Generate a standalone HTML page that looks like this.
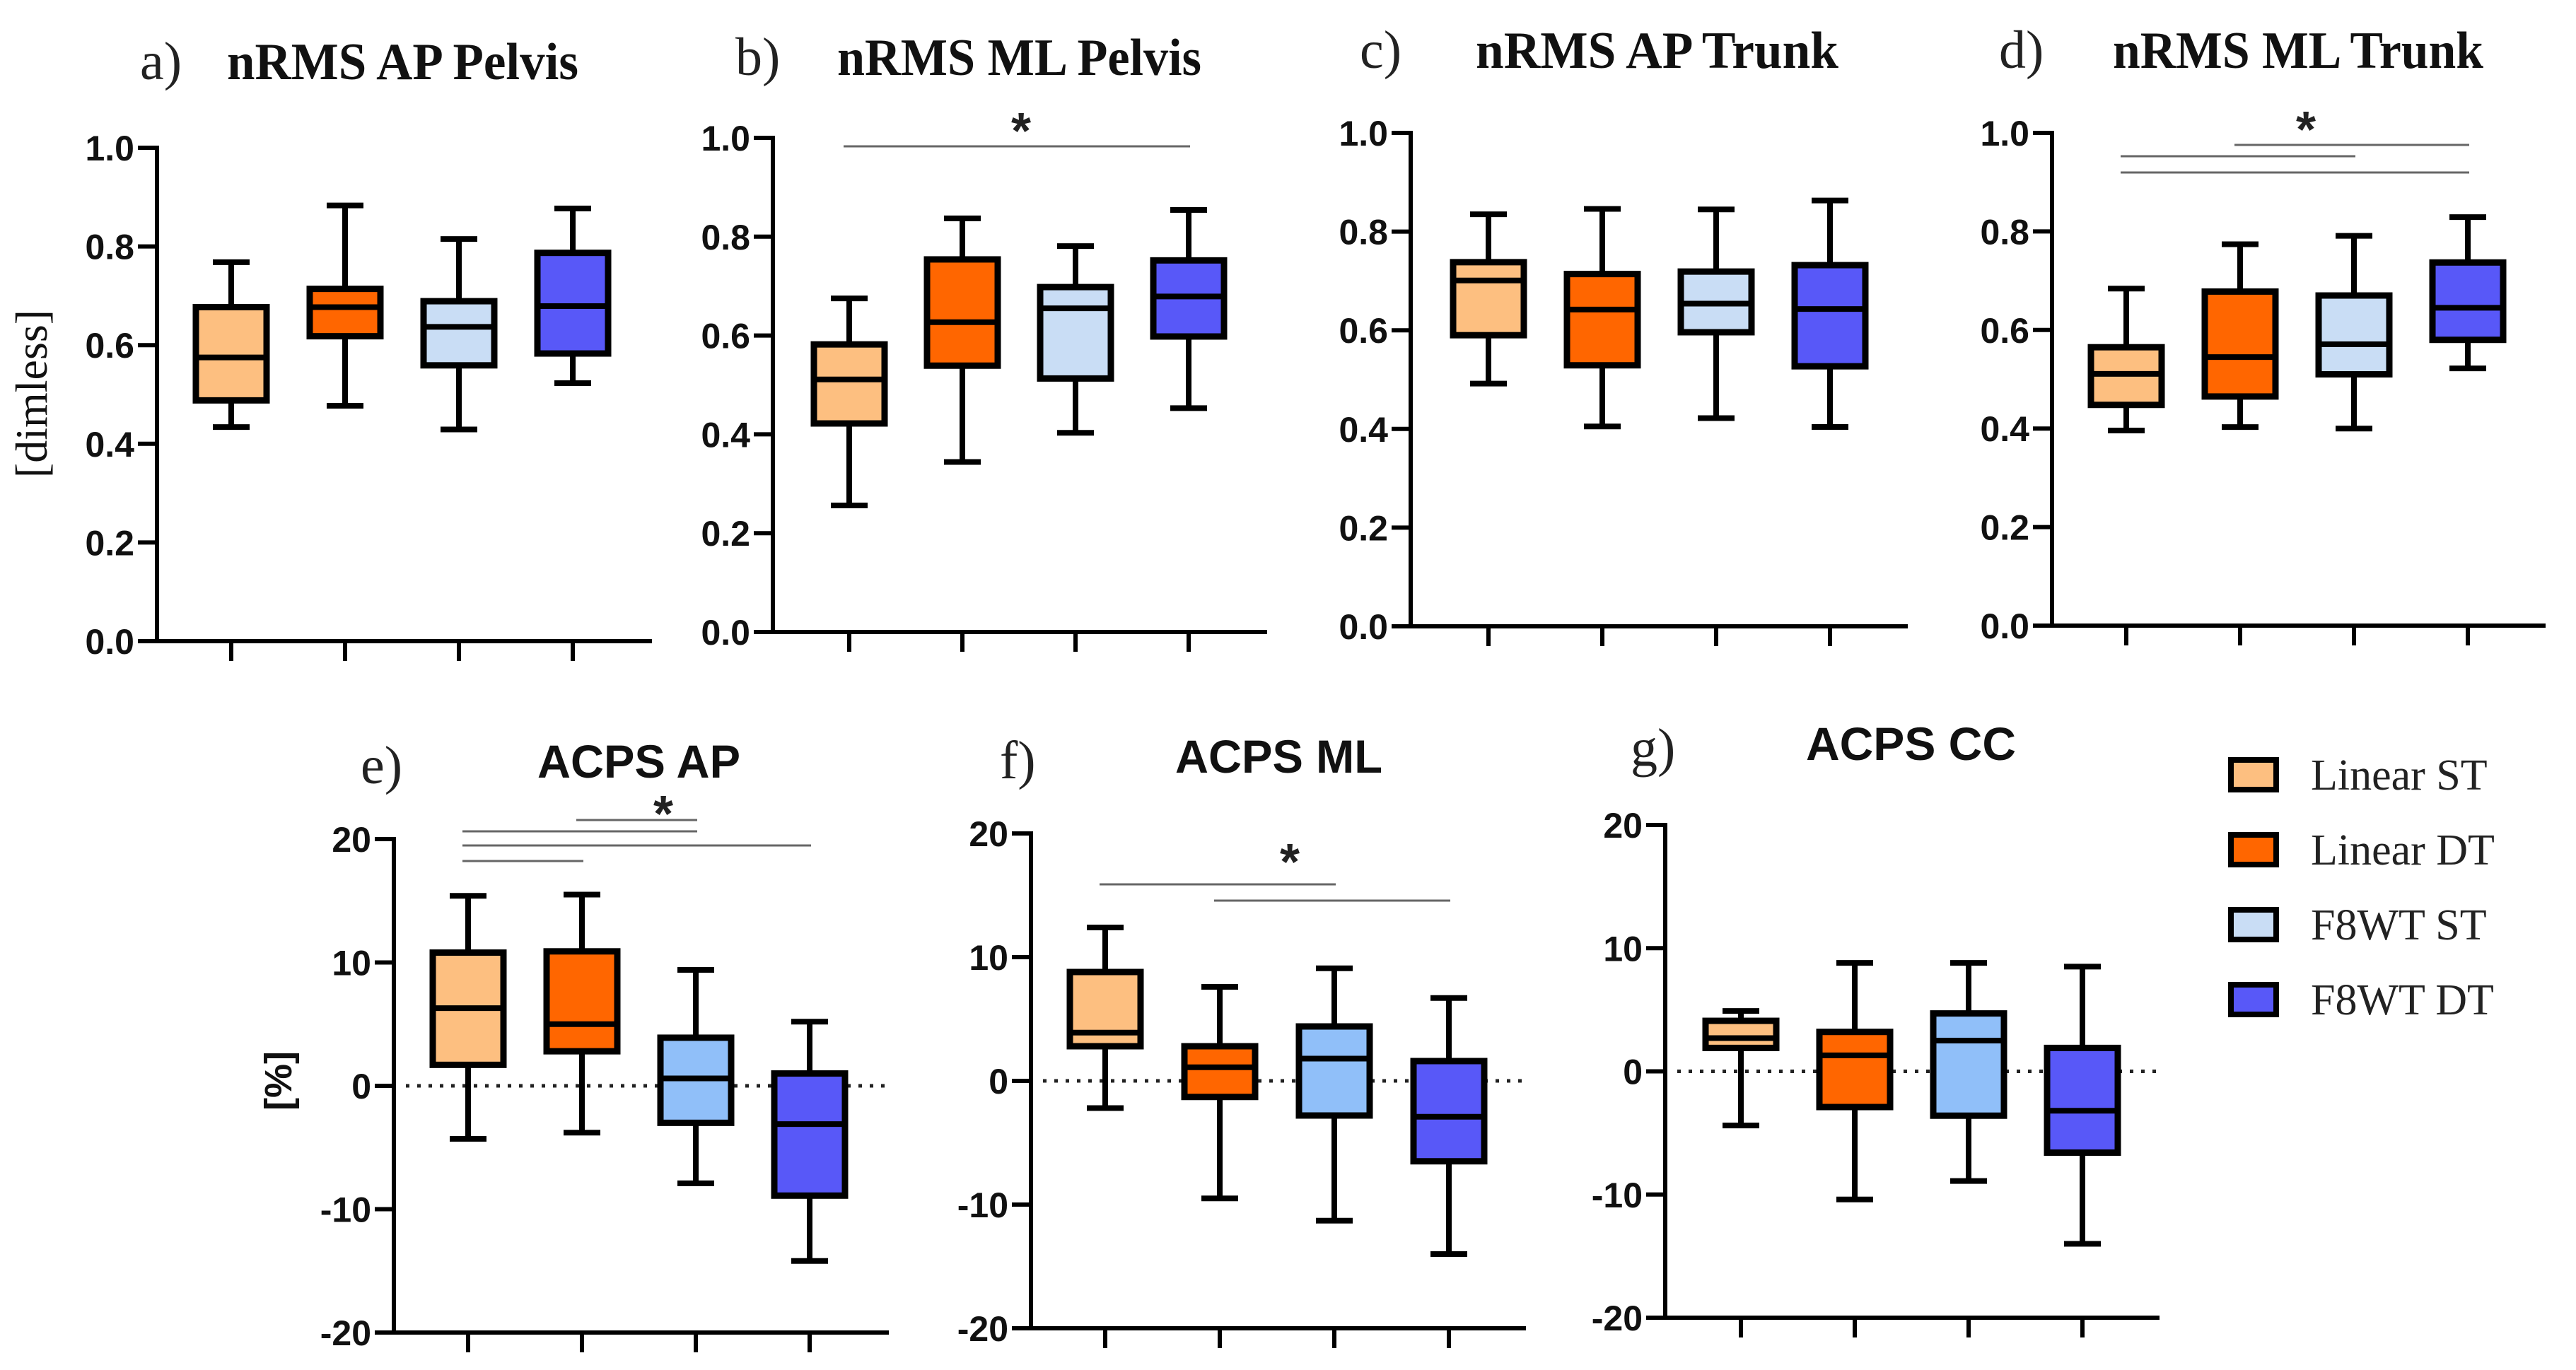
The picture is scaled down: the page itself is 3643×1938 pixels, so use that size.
<!DOCTYPE html>
<html><head><meta charset="utf-8">
<style>
html,body{margin:0;padding:0;background:#fff;}
svg{display:block;}
</style></head>
<body>
<svg id="fig" width="3643" height="1938" viewBox="0 0 3643 1938" xmlns="http://www.w3.org/2000/svg"></svg>
<script>
// ---- data ----
const groups = ["Linear ST","Linear DT","F8WT ST","F8WT DT"];
const topTicks = [0,0.2,0.4,0.6,0.8,1.0];
const topTickLabels = ["0.0","0.2","0.4","0.6","0.8","1.0"];
const botTicks = [-20,-10,0,10,20];
const botTickLabels = ["-20","-10","0","10","20"];
// each box: [whiskerLow, q1, median, q3, whiskerHigh]
const aData = [[0.434,0.488,0.575,0.677,0.768],[0.477,0.618,0.677,0.714,0.883],[0.429,0.559,0.637,0.689,0.815],[0.523,0.583,0.679,0.787,0.877]];
const bData = [[0.256,0.422,0.511,0.582,0.675],[0.344,0.539,0.627,0.754,0.837],[0.403,0.513,0.655,0.698,0.781],[0.453,0.598,0.679,0.752,0.854]];
const cData = [[0.492,0.590,0.701,0.738,0.835],[0.405,0.529,0.642,0.714,0.846],[0.422,0.596,0.654,0.719,0.845],[0.404,0.527,0.643,0.732,0.863]];
const dData = [[0.396,0.448,0.511,0.565,0.684],[0.403,0.465,0.545,0.678,0.774],[0.400,0.510,0.571,0.670,0.791],[0.522,0.580,0.645,0.737,0.829]];
const eData = [[-4.3,1.7,6.3,10.8,15.4],[-3.8,2.8,5.0,10.9,15.5],[-7.9,-3.0,0.6,3.9,9.4],[-14.2,-8.9,-3.1,1.0,5.2]];
const fData = [[-2.2,2.8,3.9,8.8,12.4],[-9.5,-1.3,1.1,2.8,7.6],[-11.3,-2.8,1.8,4.4,9.1],[-14.0,-6.5,-2.9,1.6,6.7]];
const gData = [[-4.4,1.9,2.7,4.1,4.9],[-10.4,-2.9,1.3,3.2,8.8],[-8.9,-3.6,2.5,4.7,8.8],[-14.0,-6.6,-3.2,1.9,8.5]];
// significance bars: [fromGroup, toGroup, yPixel]
const bSig = [[0,3,207]];
const dSig = [[1,3,205],[0,2,221],[0,3,244]];
const eSig = [[1,2,1160],[0,2,1176],[0,3,1196],[0,1,1218]];
const fSig = [[0,2,1251],[1,3,1274]];

const topColors = ["#FDBF80","#FF6600","#C9DDF5","#5858F8"];
const botColors = ["#FDBF80","#FF6600","#90BFF9","#5858F8"];
const legendColors = ["#FDBF80","#FF6600","#C9DDF5","#5858F8"];

const panels = [
 {id:"a",data:aData,ax:222,y0:907,y1:209,vmin:0,vmax:1,xend:922,off:105,sp:161,ticks:topTicks,labels:topTickLabels,colors:topColors,sig:[],
  letter:"a)",lx:198,title:"nRMS AP Pelvis",tx:321,tw:497,ty:112,serif:true,star:null},
 {id:"b",data:bData,ax:1093,y0:894,y1:195,vmin:0,vmax:1,xend:1792,off:108,sp:160,ticks:topTicks,labels:topTickLabels,colors:topColors,sig:bSig,
  letter:"b)",lx:1040,title:"nRMS ML Pelvis",tx:1184,tw:515,ty:106,serif:true,star:[1444,180]},
 {id:"c",data:cData,ax:1995,y0:886,y1:188,vmin:0,vmax:1,xend:2698,off:110,sp:161,ticks:topTicks,labels:topTickLabels,colors:topColors,sig:[],
  letter:"c)",lx:1923,title:"nRMS AP Trunk",tx:2087,tw:513,ty:96,serif:true,star:null},
 {id:"d",data:dData,ax:2902,y0:885,y1:188,vmin:0,vmax:1,xend:3600,off:105,sp:161,ticks:topTicks,labels:topTickLabels,colors:topColors,sig:dSig,
  letter:"d)",lx:2827,title:"nRMS ML Trunk",tx:2988,tw:524,ty:96,serif:true,star:[3261,178]},
 {id:"e",data:eData,ax:557,y0:1885,y1:1187,vmin:-20,vmax:20,xend:1257,off:105,sp:161,ticks:botTicks,labels:botTickLabels,colors:botColors,sig:eSig,
  letter:"e)",lx:510,title:"ACPS AP",tx:760,tw:287,ty:1100,serif:false,star:[938,1146],zero:true},
 {id:"f",data:fData,ax:1458,y0:1879,y1:1179,vmin:-20,vmax:20,xend:2158,off:105,sp:162,ticks:botTicks,labels:botTickLabels,colors:botColors,sig:fSig,
  letter:"f)",lx:1414,title:"ACPS ML",tx:1662,tw:293,ty:1093,serif:false,star:[1824,1214],zero:true},
 {id:"g",data:gData,ax:2355,y0:1864,y1:1167,vmin:-20,vmax:20,xend:3054,off:107,sp:161,ticks:botTicks,labels:botTickLabels,colors:botColors,sig:[],
  letter:"g)",lx:2306,title:"ACPS CC",tx:2554,tw:297,ty:1075,serif:false,star:null,zero:true}
];

const NS="http://www.w3.org/2000/svg";
const svg=document.getElementById("fig");
function mk(tag,attrs,parent){const e=document.createElementNS(NS,tag);for(const k in attrs)e.setAttribute(k,attrs[k]);(parent||svg).appendChild(e);return e;}

panels.forEach(p=>{
  const g=mk("g",{});
  
  
  const yS=v=>p.y0-(v-p.vmin)/(p.vmax-p.vmin)*(p.y0-p.y1);
  const xS=i=>p.ax+p.off+i*p.sp;
  const lt=mk("text",{x:p.lx,y:p.ty+(p.serif?0:8),"font-family":"Liberation Serif, serif","font-size":76,fill:"#222"},g);
  lt.textContent=p.letter;
  
  
  const tt=mk("text",{x:p.tx,y:p.ty,"font-family":p.serif?"Liberation Serif, serif":"Liberation Sans, sans-serif","font-weight":"bold","font-size":p.serif?74:66,fill:"#111",textLength:p.tw,lengthAdjust:"spacingAndGlyphs"},g);
  tt.textContent=p.title;
  
  
  if(p.zero){
    const zl=mk("line",{x1:p.ax+17,x2:p.xend,y1:yS(0),y2:yS(0),stroke:"#222","stroke-width":5,"stroke-dasharray":"5 11"},g);
    
    
  }
  const ya=mk("line",{x1:p.ax,x2:p.ax,y1:p.y1-3,y2:p.y0+3,stroke:"#000","stroke-width":6},g);
  
  
  const xa=mk("line",{x1:p.ax-27,x2:p.xend,y1:p.y0,y2:p.y0,stroke:"#000","stroke-width":6},g);
  
  
  p.ticks.forEach((t,i)=>{
    const tk=mk("line",{x1:p.ax-27,x2:p.ax,y1:yS(t),y2:yS(t),stroke:"#000","stroke-width":6},g);
    
    
    const tl=mk("text",{x:p.ax-32,y:yS(t)+18,"text-anchor":"end","font-family":"Liberation Sans, sans-serif","font-weight":"bold","font-size":50,fill:"#111"},g);
    tl.textContent=p.labels[i];
    
    
  });
  for(let i=0;i<4;i++){
    const xt=mk("line",{x1:xS(i),x2:xS(i),y1:p.y0,y2:p.y0+28,stroke:"#000","stroke-width":6},g);
    
    
  }
  p.data.forEach((d,i)=>{
    const x=xS(i),hw=50,cw=26;
    const bg=mk("g",{},g);
    
    
    mk("line",{x1:x,x2:x,y1:yS(d[0]),y2:yS(d[4]),stroke:"#000","stroke-width":8},bg);
    mk("line",{x1:x-cw,x2:x+cw,y1:yS(d[0]),y2:yS(d[0]),stroke:"#000","stroke-width":8},bg);
    mk("line",{x1:x-cw,x2:x+cw,y1:yS(d[4]),y2:yS(d[4]),stroke:"#000","stroke-width":8},bg);
    mk("rect",{x:x-hw,y:yS(d[3]),width:2*hw,height:yS(d[1])-yS(d[3]),fill:p.colors[i],stroke:"#000","stroke-width":9},bg);
    mk("line",{x1:x-hw,x2:x+hw,y1:yS(d[2]),y2:yS(d[2]),stroke:"#000","stroke-width":8},bg);
  });
  p.sig.forEach(s=>{
    const sl=mk("line",{x1:xS(s[0])-8,x2:xS(s[1])+2,y1:s[2],y2:s[2],stroke:"#666","stroke-width":3},g);
    
    
  });
  if(p.star){
    const st=mk("text",{x:p.star[0],y:p.star[1]+30,"text-anchor":"middle","font-family":"Liberation Sans, sans-serif","font-weight":"bold","font-size":72,fill:"#222"},g);
    st.textContent="*";
    
    
  }
});

const yl1=mk("text",{x:0,y:0,transform:"translate(66,557) rotate(-90)","text-anchor":"middle","font-family":"Liberation Serif, serif","font-size":64,fill:"#111"});
yl1.textContent="[dimless]";


const yl2=mk("text",{x:0,y:0,transform:"translate(412,1529) rotate(-90)","text-anchor":"middle","font-family":"Liberation Sans, sans-serif","font-weight":"bold","font-size":54,fill:"#111"});
yl2.textContent="[%]";



const legY=[1096,1202,1308,1414];
const leg=mk("g",{});


groups.forEach((name,i)=>{
  const e=mk("g",{},leg);
  
  
  mk("rect",{x:3155,y:legY[i]-21,width:64,height:42,fill:legendColors[i],stroke:"#000","stroke-width":8},e);
  const t=mk("text",{x:3268,y:legY[i]+21,"font-family":"Liberation Serif, serif","font-size":62,fill:"#222"},e);
  t.textContent=name;
});
</script>
</body></html>
